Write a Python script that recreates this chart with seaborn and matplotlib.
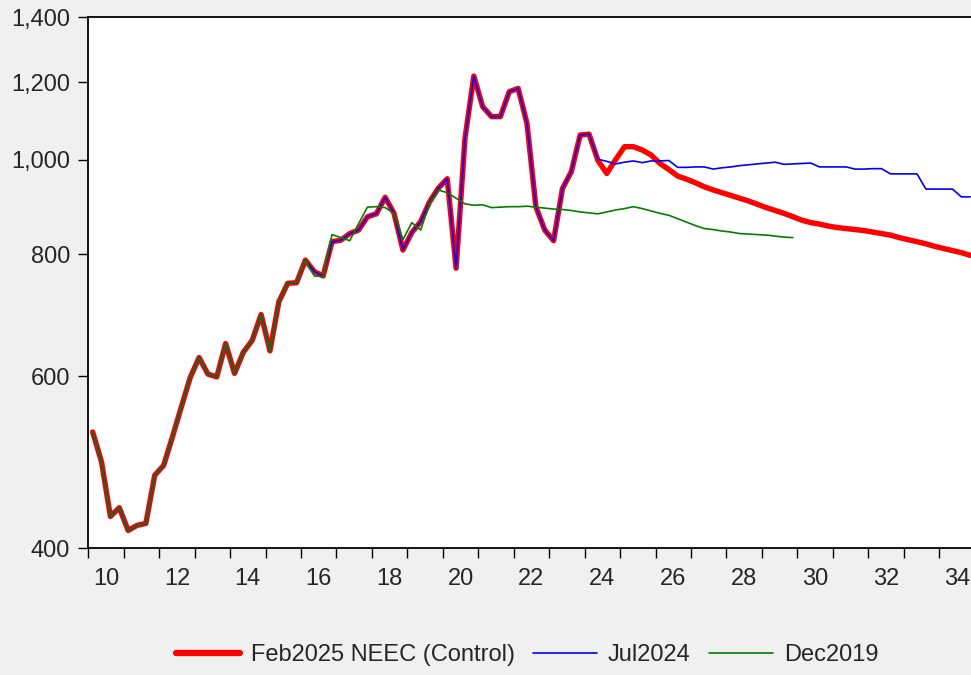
import numpy as np
import pandas as pd
import matplotlib
matplotlib.use("Agg")
import matplotlib.pyplot as plt
import seaborn as sns
from matplotlib.ticker import FixedLocator, FuncFormatter, NullLocator

# quarterly series, 2010Q1 onwards
start_quarter = "2010Q1"

feb2025 = [526, 490, 431, 440, 417, 422, 424, 475, 486, 520,
           558, 598, 627, 603, 599, 648, 604, 635, 653, 694,
           637, 715, 747, 748, 789, 768, 760, 824, 827, 840,
           847, 874, 880, 915, 881, 808, 842, 864, 905, 935,
           956, 774, 1051, 1218, 1133, 1107, 1107, 1174, 1183, 1089,
           895, 847, 826, 934, 972, 1060, 1062, 998, 968, 1000,
           1031, 1031, 1023, 1011, 991, 977, 962, 955, 947, 938,
           931, 925, 919, 913, 907, 900, 893, 887, 881, 874,
           867, 862, 859, 855, 852, 850, 848, 846, 843, 840,
           837, 832, 828, 824, 820, 815, 811, 807, 803, 798]

jul2024 = feb2025[:57] + [1001, 996, 990, 994, 997, 993, 997, 997, 998, 982,
                          982, 983, 983, 978, 981, 983, 986, 988, 990, 992,
                          994, 989, 990, 991, 992, 983, 983, 983, 983, 978,
                          978, 979, 979, 967, 967, 967, 967, 933, 933, 933,
                          933, 916, 916]

dec2019 = feb2025[:25] + [760, 759, 838, 832, 826, 860, 894, 895, 893, 881,
                          828, 862, 847, 902, 931, 925, 913, 901, 898, 899,
                          893, 894, 895, 895, 896, 894, 892, 890, 889, 887,
                          884, 882, 880, 884, 888, 891, 895, 891, 886, 881,
                          877, 870, 863, 856, 850, 848, 845, 843, 840, 839,
                          838, 837, 835, 833, 832]

series_names = ["Feb2025 NEEC (Control)", "Jul2024", "Dec2019"]
series_colors = ["#FF0000", "#0000FF", "#008000"]
series_widths = [3.9, 1.2, 1.2]

y_ticks = [400, 600, 800, 1000, 1200, 1400]
label_years = list(range(2010, 2035, 2))


def to_frac_year(n):
    per = pd.period_range(start_quarter, periods=n, freq="Q")
    return per.year + (per.quarter - 1) / 4 + 0.125


sns.set_style("white")
plt.rcParams["font.family"] = ["Liberation Sans", "DejaVu Sans"]

fig = plt.figure(figsize=(9.71, 6.75), dpi=100, facecolor="#F0F0F0")
ax = fig.add_axes([0.0909, 0.188, 0.911, 0.7868])
ax.set_facecolor("white")

for vals, name, col, lw in zip([feb2025, jul2024, dec2019], series_names,
                               series_colors, series_widths):
    df = pd.DataFrame({"x": to_frac_year(len(vals)), "y": vals})
    sns.lineplot(data=df, x="x", y="y", ax=ax, color=col, linewidth=lw,
                 label=name, legend=False)

ax.set_yscale("log")
ax.set_ylim(400, 1400)
ax.yaxis.set_major_locator(FixedLocator(y_ticks))
ax.yaxis.set_minor_locator(NullLocator())
ax.yaxis.set_major_formatter(FuncFormatter(lambda v, p: f"{v:,.0f}"))

ax.set_xlim(2010, 2034.95)
ax.xaxis.set_major_locator(FixedLocator(range(2010, 2036)))
ax.xaxis.set_major_formatter(FuncFormatter(lambda v, p: ""))
ax.xaxis.set_minor_locator(FixedLocator([y + 0.5 for y in label_years]))
ax.xaxis.set_minor_formatter(FuncFormatter(lambda v, p: f"{int(v) % 100:02d}"))

ax.tick_params(axis="y", which="major", direction="out", length=7, width=1,
               color="black", labelsize=17, pad=6, left=True)
ax.tick_params(axis="x", which="major", direction="out", length=7, width=1,
               color="black", bottom=True)
ax.tick_params(axis="x", which="minor", length=0, labelsize=17, pad=14,
               bottom=True)

for s in ax.spines.values():
    s.set_color("black")
    s.set_linewidth(1.3)

ax.set_xlabel("")
ax.set_ylabel("")

handles, labels = ax.get_legend_handles_labels()
leg = fig.legend(handles, labels, loc="center", bbox_to_anchor=(0.543, 0.029),
                 ncol=3, frameon=False, fontsize=17, handlelength=2.7,
                 handletextpad=0.45, columnspacing=0.8)
leg.get_lines()[0].set_linewidth(4.5)

fig.savefig("out.png", dpi=100, facecolor=fig.get_facecolor())
